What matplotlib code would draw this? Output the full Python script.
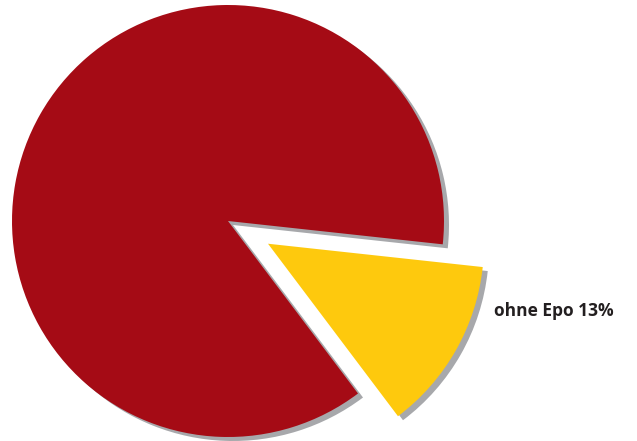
import matplotlib.pyplot as plt

# share of each group in percent
labels = ["ohne Epo", "mit Epo"]
shares = [13, 87]
colors = ["#FEC90D", "#A50B15"]

fig = plt.figure(figsize=(6.37, 4.41), dpi=100)
ax = fig.add_axes([0, 0, 1, 1])

cx, cy, r = 228, 220, 216
# pie() takes explode as an absolute distance in data units
explode = [46, 0]

# grey drop shadow, slightly offset to the lower right
ax.pie(shares, explode=explode, colors=["#A7A8AB", "#A7A8AB"], startangle=-53,
       radius=r, center=(cx + 5, cy - 4), frame=True,
       wedgeprops=dict(linewidth=0))
ax.pie(shares, explode=explode, colors=colors, startangle=-53,
       radius=r, center=(cx, cy), frame=True,
       wedgeprops=dict(linewidth=0))

ax.set_xlim(0, 637)
ax.set_ylim(0, 441)
ax.set_aspect("equal")
ax.axis("off")

ax.text(494, 441 - 311, f"{labels[0]} {shares[0]}%", fontsize=12.5,
        fontweight="bold", color="#231F20", family="Open Sans",
        ha="left", va="center")

fig.savefig("out.png", dpi=100)
